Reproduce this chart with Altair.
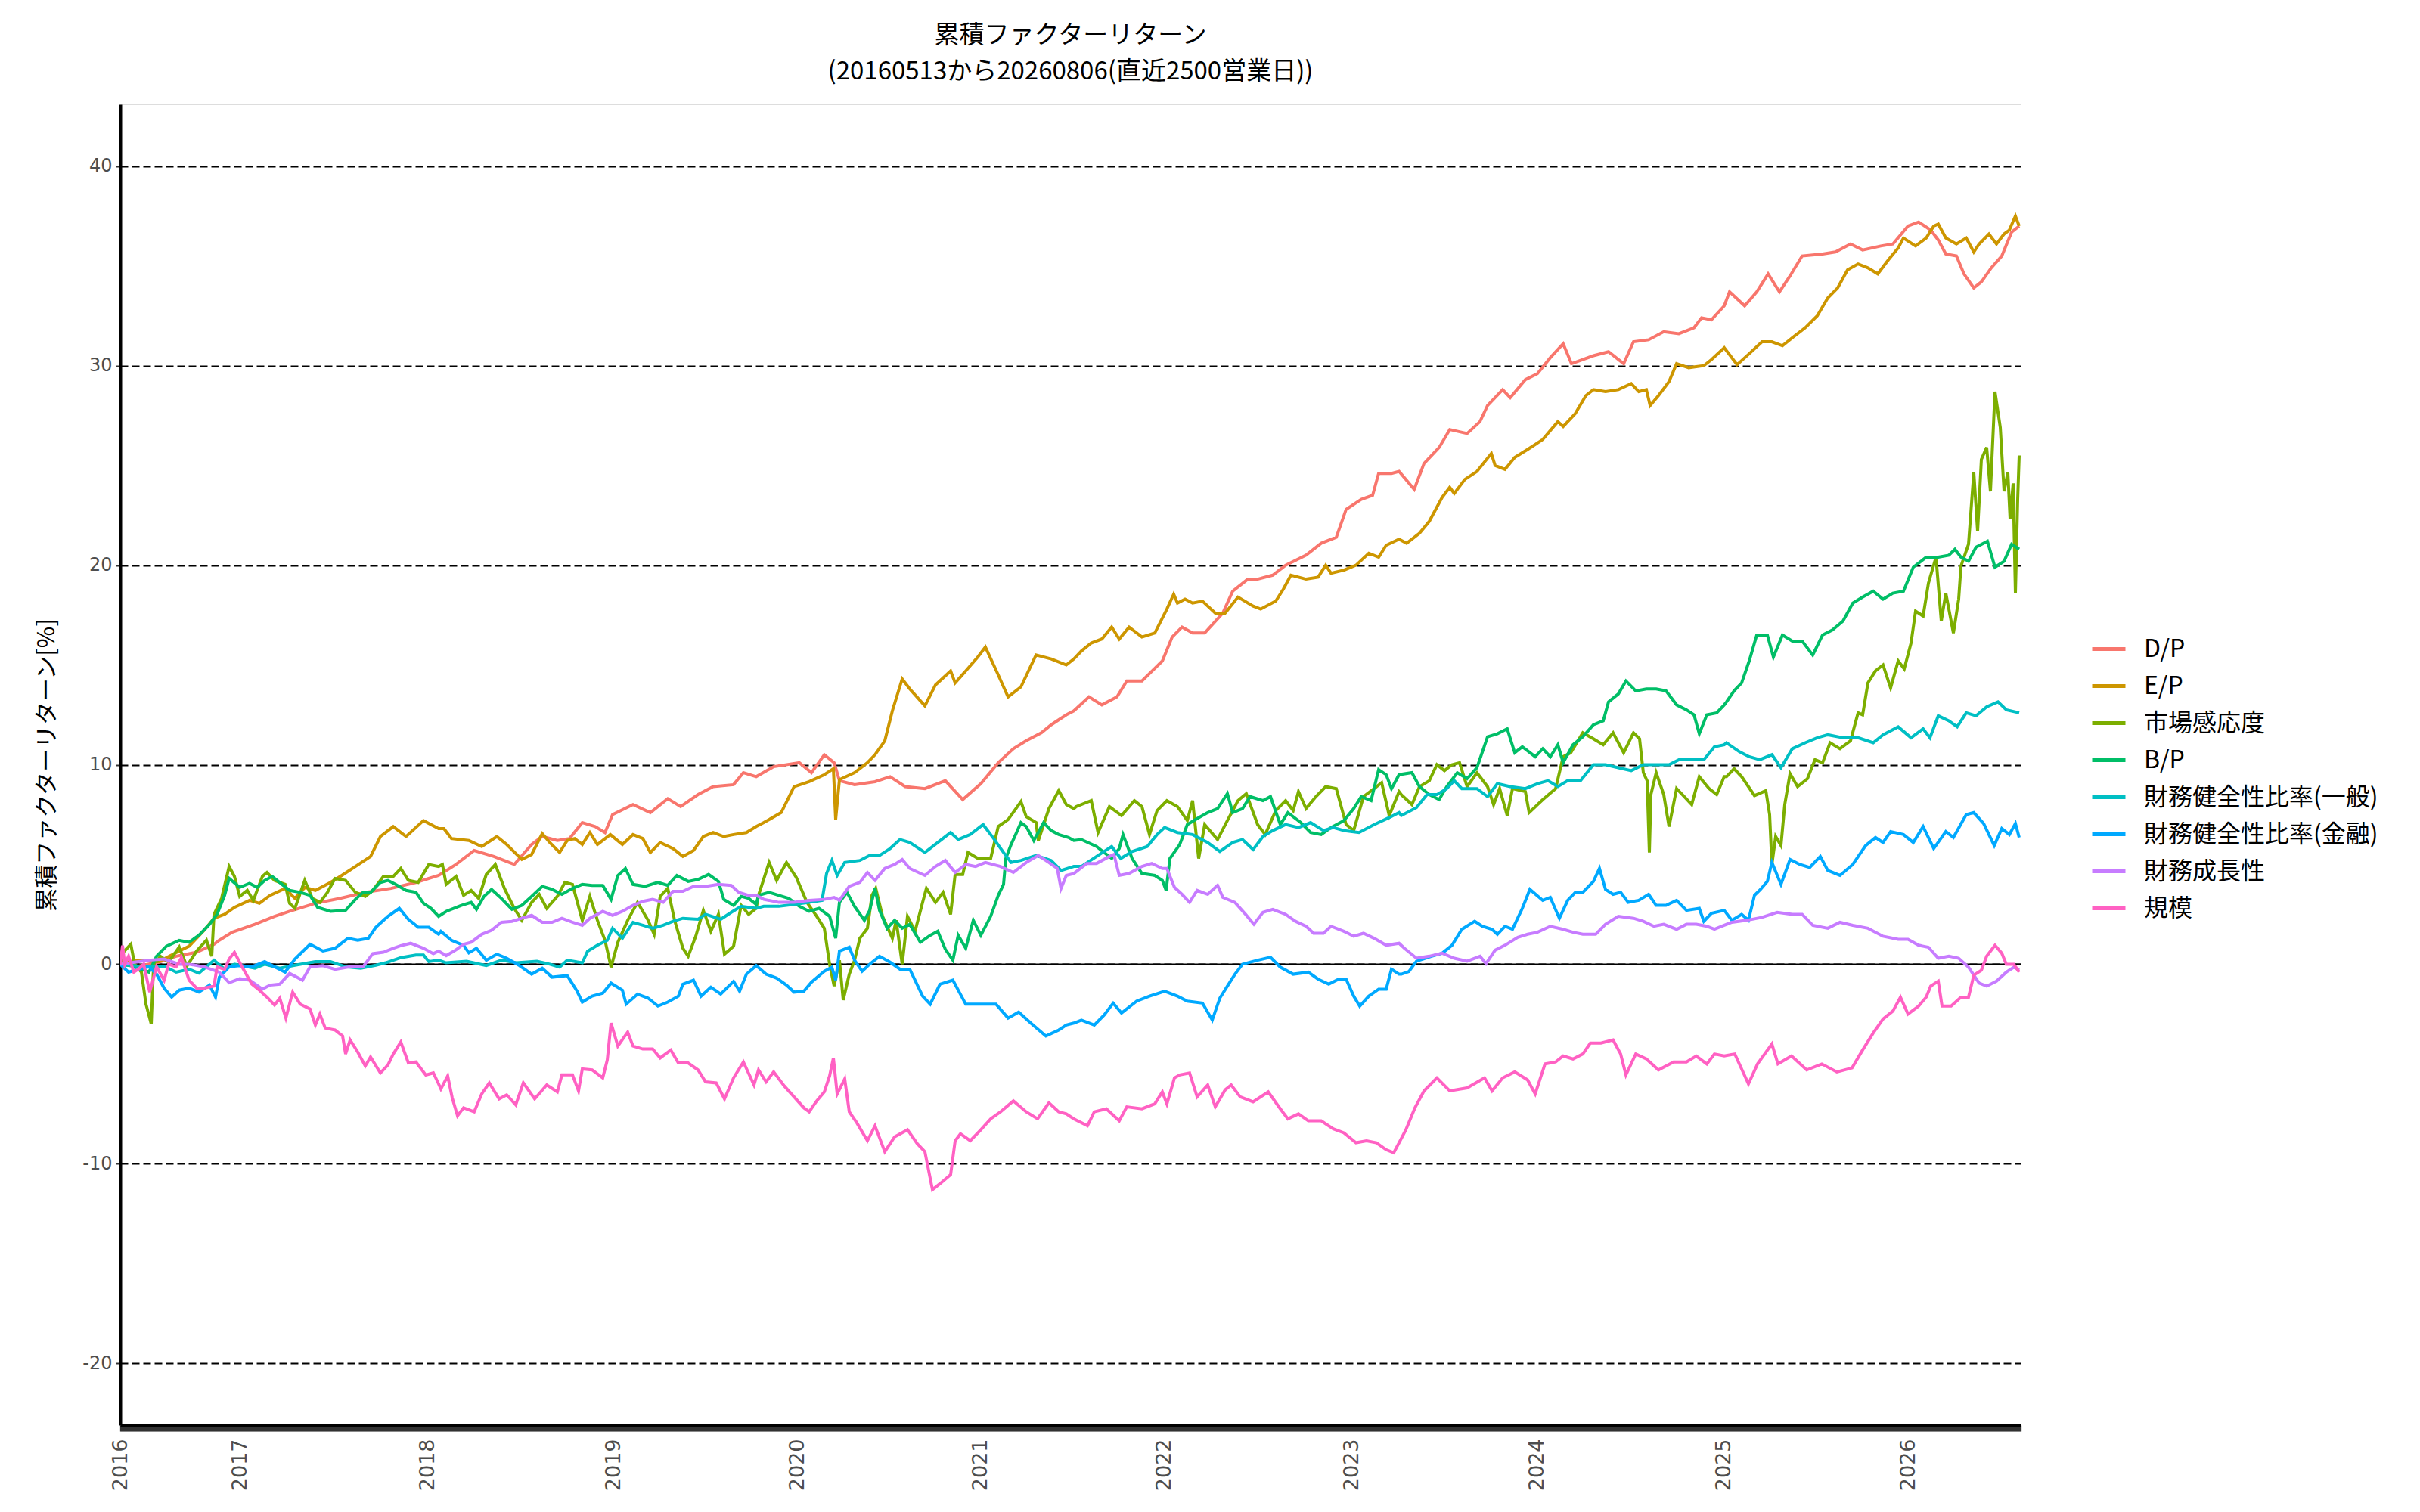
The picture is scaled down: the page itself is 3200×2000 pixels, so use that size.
import altair as alt
import pandas as pd

SERIES = ["D/P", "E/P", "市場感応度", "B/P", "財務健全性比率(一般)",
          "財務健全性比率(金融)", "財務成長性", "規模"]
COLORS = ["#F8766D", "#CD9600", "#7CAE00", "#00BE67", "#00BFC4",
          "#00A9FF", "#C77CFF", "#FF61C3"]

TITLE_LINES = ["累積ファクターリターン", "(20160513から20260806(直近2500営業日))"]
Y_TITLE = "累積ファクターリターン[%]"

# trading-day index of the first trading day of each year (x positions of the year labels)
YEAR_IDX = [0, 158, 406, 652, 895, 1137, 1380, 1628, 1873, 2120, 2364]
YEAR_LAB = ["2016", "2017", "2018", "2019", "2020", "2021", "2022", "2023", "2024", "2025", "2026"]
LAST_IDX = 2513
Y_TICKS = [-20, -10, 0, 10, 20, 30, 40]

# (trading-day index, cumulative return %)
DP = [(0,0),(24,-0.1),(51,0.1),(74,0.4),(101,0.6),(124,1.0),(131,1.2),(148,1.6),(178,2.0),(204,2.4),(224,2.65),(258,3.05),(291,3.3),(324,3.6),(358,3.8),(391,4.1),(421,4.45),
      (444,5.0),(468,5.7),(494,5.4),(521,5.0),(544,6.0),(558,6.4),(578,6.2),(594,6.3),(611,7.1),(628,6.9),(641,6.6),(651,7.5),(678,8.0),(701,7.6),(724,8.3),(741,7.9),(764,8.5),(784,8.9),(811,9.0),(824,9.6),(841,9.4),
      (864,9.9),(898,10.1),(914,9.6),(931,10.5),(944,10.1),(951,9.2),(971,9.0),(998,9.15),(1018,9.4),(1038,8.9),(1064,8.8),(1091,9.2),(1114,8.25),(1138,9.05),(1161,10.1),(1181,10.8),(1198,11.2),(1218,11.6),(1231,12.0),(1251,12.5),(1261,12.7),
      (1281,13.4),(1298,13.0),(1318,13.4),(1331,14.2),(1351,14.2),(1378,15.2),(1391,16.4),(1404,16.9),(1418,16.6),(1434,16.6),(1458,17.6),(1471,18.7),(1491,19.3),(1504,19.3),(1524,19.5),(1541,20.0),(1568,20.5),(1588,21.1),(1608,21.4),(1621,22.8),(1641,23.3),(1656,23.5),(1664,24.6),(1681,24.6),(1691,24.7),
      (1711,23.8),(1724,25.1),(1744,25.9),(1758,26.8),(1781,26.6),(1798,27.2),(1808,28.0),(1828,28.8),(1838,28.4),(1858,29.3),(1874,29.6),(1891,30.4),(1908,31.1),(1919,30.1),(1948,30.5),(1968,30.7),(1988,30.1),(2001,31.2),(2021,31.3),(2041,31.7),(2061,31.6),(2081,31.9),(2091,32.4),(2104,32.3),(2121,33.0),
      (2128,33.7),(2148,33.0),(2164,33.7),(2179,34.6),(2194,33.7),(2208,34.5),(2224,35.5),(2251,35.6),(2268,35.7),(2288,36.1),(2304,35.8),(2328,36.0),(2344,36.1),(2364,37.0),(2378,37.2),(2394,36.8),(2404,36.3),(2414,35.6),(2428,35.5),(2438,34.6),(2451,33.9),(2461,34.2),(2474,34.9),(2488,35.5),(2501,36.7),(2511,37.0)]

EP = [(0,0),(24,0.2),(51,0.13),(78,0.66),(91,0.9),(111,1.7),(124,2.3),(138,2.5),(151,2.85),(171,3.2),(184,3.05),(198,3.45),(218,3.8),(231,3.3),(244,3.85),(258,3.7),(278,4.1),(291,4.4),(311,4.9),(331,5.4),(344,6.4),(361,6.9),(378,6.4),(401,7.2),(421,6.8),
      (428,6.8),(438,6.3),(461,6.2),(478,5.9),(498,6.4),(511,6.0),(531,5.25),(544,5.5),(558,6.55),(568,6.1),(581,5.6),(591,6.2),(601,6.3),(611,6.0),(621,6.6),(631,6.0),(648,6.5),(664,6.0),(678,6.5),(691,6.3),(701,5.6),(714,6.1),(731,5.8),(744,5.4),(758,5.7),(771,6.4),(784,6.6),(798,6.4),(811,6.5),(828,6.6),(841,6.9),
      (851,7.1),(874,7.6),(891,8.9),(911,9.15),(931,9.5),(943,9.8),(946,7.25),(951,9.25),(971,9.6),(988,10.1),(998,10.5),(1011,11.2),(1021,12.7),(1034,14.3),(1044,13.8),(1064,12.95),(1078,14.0),(1098,14.7),(1104,14.1),(1118,14.7),(1134,15.4),(1144,15.9),(1161,14.5),(1174,13.4),(1191,13.9),(1211,15.5),(1231,15.3),(1251,15.0),(1261,15.3),
      (1271,15.7),(1284,16.1),(1298,16.3),(1311,16.9),(1321,16.3),(1334,16.9),(1351,16.4),(1368,16.6),(1384,17.8),(1393,18.55),(1398,18.1),(1408,18.3),(1418,18.1),(1431,18.2),(1448,17.6),(1461,17.6),(1478,18.4),(1498,17.95),(1508,17.8),(1528,18.2),(1538,18.8),(1548,19.5),(1568,19.3),(1584,19.4),(1594,20.0),(1601,19.6),(1618,19.75),(1634,20.0),(1651,20.6),(1664,20.4),(1674,21.0),(1691,21.3),
      (1701,21.1),(1718,21.6),(1731,22.2),(1748,23.4),(1758,23.9),(1764,23.6),(1778,24.3),(1794,24.7),(1813,25.6),(1818,25.0),(1831,24.8),(1844,25.4),(1861,25.8),(1881,26.3),(1901,27.2),(1908,26.95),(1924,27.6),(1938,28.5),(1948,28.8),(1964,28.7),(1981,28.8),(1998,29.1),(2008,28.7),(2018,28.8),(2023,28.0),(2034,28.5),(2048,29.2),(2058,30.1),(2074,29.9),(2094,30.0),(2104,30.3),(2121,30.9),
      (2138,30.05),(2154,30.6),(2171,31.2),(2184,31.2),(2198,31.0),(2211,31.4),(2228,31.9),(2244,32.5),(2258,33.4),(2271,33.9),(2284,34.8),(2298,35.1),(2311,34.9),(2324,34.6),(2338,35.3),(2351,35.9),(2358,36.4),(2374,36.0),(2388,36.4),(2398,37.0),(2404,37.1),(2414,36.4),(2428,36.1),(2441,36.4),(2451,35.7),(2458,36.1),(2471,36.6),(2481,36.1),(2491,36.6),(2498,36.8),(2506,37.5),(2511,37.0)]

MKT = [(0,0),(4,0.6),(14,1.0),(19,0),(28,-0.4),(34,-2.0),(41,-3.0),(44,-0.1),(53,0.4),(64,0.1),(78,0.86),(88,-0.1),(101,0.66),(114,1.2),(121,0.4),(124,2.5),(134,3.3),(144,4.9),(151,4.4),(158,3.4),(168,3.7),(176,3.2),(188,4.4),(194,4.6),(204,4.2),(218,4.0),(224,3.05),(231,2.8),(244,4.2),(254,3.3),(264,3.1),(274,3.6),(284,4.3),(298,4.2),(311,3.6),(324,3.4),(334,3.7),(348,4.4),(361,4.4),(371,4.8),(381,4.2),(394,4.1),(408,5.0),(421,4.9),
       (426,5.0),(431,4.0),(444,4.4),(454,3.45),(464,3.7),(474,3.3),(484,4.5),(496,5.0),(508,3.8),(521,2.8),(531,2.2),(544,3.1),(554,3.5),(564,2.8),(578,3.4),(588,4.1),(598,4.0),(611,2.2),(621,3.4),(631,2.2),(641,1.2),(649,-0.15),(658,1.1),(671,2.2),(684,3.1),(698,2.2),(706,1.5),(714,3.4),(724,3.8),(733,2.2),(744,0.8),(751,0.4),(761,1.4),(771,2.7),(781,1.65),(791,2.5),(799,0.5),(811,0.9),(821,2.95),(831,2.5),(841,2.8),
       (844,3.45),(858,5.1),(868,4.2),(881,5.1),(894,4.35),(908,3.1),(921,2.4),(931,1.8),(938,0),(944,-1.1),(951,0.2),(956,-1.8),(964,-0.5),(971,0.2),(978,1.3),(988,1.8),(994,3.45),(999,3.8),(1008,2.4),(1021,1.3),(1026,2.2),(1034,0),(1041,2.4),(1051,1.65),(1061,3.1),(1066,3.8),(1078,3.1),(1088,3.6),(1098,2.5),(1104,4.5),(1114,4.5),(1121,5.6),(1134,5.3),(1151,5.3),(1161,6.9),(1174,7.25),(1191,8.15),(1198,7.4),(1211,7.1),(1214,6.2),(1228,7.8),(1241,8.7),(1251,8.0),(1261,7.8),
       (1264,7.9),(1284,8.2),(1293,6.6),(1308,7.9),(1324,7.45),(1341,8.2),(1351,7.9),(1361,6.5),(1371,7.7),(1384,8.2),(1398,7.9),(1411,7.2),(1418,8.2),(1426,5.3),(1434,7.0),(1451,6.25),(1464,7.2),(1478,8.2),(1489,8.55),(1504,7.0),(1514,6.5),(1528,7.7),(1541,8.2),(1551,7.7),(1558,8.65),(1568,7.8),(1581,8.4),(1594,8.9),(1608,8.8),(1621,7.0),(1631,6.7),(1644,8.4),(1658,8.8),(1668,9.1),(1678,7.45),(1691,8.65),
       (1694,8.5),(1708,8.0),(1718,8.9),(1731,9.2),(1741,10.0),(1751,9.7),(1761,10.0),(1771,10.1),(1781,8.9),(1794,9.6),(1808,8.9),(1816,8.0),(1824,8.8),(1834,7.45),(1841,8.8),(1858,8.65),(1863,7.6),(1881,8.25),(1898,8.8),(1908,10.4),(1918,10.6),(1934,11.6),(1948,11.3),(1961,11.0),(1974,11.6),(1988,10.6),(2001,11.6),(2009,11.3),(2014,9.6),(2019,9.2),(2022,5.6),(2024,8.5),(2031,9.6),(2041,8.5),(2048,6.9),(2058,8.8),(2068,8.4),(2078,8.0),(2088,9.4),(2101,8.8),(2111,8.5),(2121,9.4),
       (2124,9.4),(2134,9.8),(2144,9.4),(2161,8.45),(2176,8.7),(2181,7.5),(2184,5.0),(2189,6.4),(2196,5.95),(2201,8.0),(2208,9.55),(2218,8.9),(2231,9.3),(2241,10.25),(2251,10.1),(2261,11.1),(2274,10.8),(2288,11.2),(2298,12.6),(2304,12.5),(2311,14.1),(2321,14.7),(2331,15.0),(2341,13.85),(2351,15.2),(2359,14.8),(2368,16.1),(2374,17.7),(2384,17.45),(2391,19.1),(2401,20.4),(2408,17.2),(2414,18.6),(2424,16.6),(2431,18.3),(2434,19.95),(2444,21.05),(2451,24.65),(2456,21.7),(2461,25.3),(2468,25.9),(2473,23.7),(2479,28.7),(2486,26.9),(2491,23.7),(2496,24.65),(2499,22.3),(2503,24.1),(2506,18.6),(2509,23.3),(2511,25.5)]

BP = [(0,0),(18,-0.1),(38,-0.4),(48,0.4),(61,0.9),(78,1.2),(91,1.1),(104,1.45),(118,2.0),(128,2.5),(138,3.45),(144,4.3),(158,3.85),(171,4.05),(181,3.85),(191,4.2),(201,4.4),(214,4.0),(224,3.7),(238,3.6),(251,3.45),(261,2.85),(278,2.65),(298,2.7),(311,3.25),(321,3.6),(331,3.6),(344,4.1),(354,4.2),(364,4.0),(378,3.7),(391,3.6),(401,3.05),(411,2.8),(421,2.4),
      (431,2.65),(451,2.95),(464,3.1),(471,2.75),(481,3.4),(491,3.75),(504,3.3),(518,2.75),(531,2.95),(544,3.4),(558,3.9),(571,3.75),(584,3.5),(598,3.8),(611,4.0),(624,3.95),(638,3.95),(649,3.25),(658,4.45),(668,4.8),(678,4.0),(694,3.9),(711,4.1),(724,3.95),(736,4.45),(751,4.15),(764,4.25),(778,4.5),(791,4.15),(798,3.25),(811,2.95),(821,3.4),(831,3.3),(841,3.0),
      (844,3.45),(858,3.6),(871,3.45),(884,3.3),(898,2.9),(911,2.65),(924,2.8),(938,2.4),(946,1.3),(951,3.1),(961,3.6),(971,2.9),(984,2.2),(991,2.7),(998,3.8),(1004,2.7),(1014,1.8),(1024,2.2),(1034,1.8),(1044,2.0),(1058,1.1),(1071,1.45),(1081,1.65),(1091,0.75),(1101,0.2),(1108,1.45),(1118,0.8),(1128,2.2),(1138,1.45),(1151,2.4),(1161,3.45),(1168,4.0),(1171,5.3),(1178,6.0),(1184,6.5),(1191,7.1),(1198,6.9),(1208,6.2),(1221,7.1),(1231,6.7),(1241,6.5),(1254,6.35),(1261,6.2),
      (1271,6.25),(1291,5.9),(1311,5.3),(1321,5.8),(1326,6.5),(1338,5.3),(1351,4.55),(1368,4.45),(1378,4.2),(1383,3.7),(1388,5.3),(1401,6.0),(1411,7.0),(1424,7.3),(1438,7.6),(1451,7.8),(1464,8.55),(1471,7.6),(1484,7.8),(1494,8.4),(1511,8.2),(1521,8.4),(1534,7.0),(1544,7.6),(1561,7.1),(1574,6.6),(1588,6.5),(1601,6.85),(1618,7.2),(1631,7.8),(1641,8.4),(1654,8.2),(1664,9.75),(1674,9.5),(1681,8.8),(1691,9.5),
      (1708,9.6),(1718,8.9),(1731,8.5),(1744,8.25),(1754,8.9),(1768,9.6),(1781,9.3),(1794,9.85),(1808,11.4),(1821,11.55),(1834,11.8),(1844,10.6),(1854,10.9),(1871,10.4),(1881,10.8),(1891,10.4),(1901,11.0),(1908,10.1),(1921,11.0),(1934,11.4),(1948,12.0),(1961,12.2),(1968,13.15),(1981,13.55),(1991,14.2),(2004,13.7),(2018,13.8),(2031,13.8),(2044,13.7),(2058,13.0),(2071,12.75),(2081,12.5),(2088,11.55),(2098,12.5),(2111,12.6),(2121,13.0),
      (2124,13.15),(2134,13.7),(2144,14.1),(2154,15.2),(2164,16.5),(2178,16.5),(2186,15.4),(2198,16.5),(2211,16.2),(2224,16.2),(2238,15.5),(2251,16.5),(2264,16.75),(2278,17.2),(2291,18.1),(2304,18.4),(2318,18.7),(2331,18.3),(2344,18.6),(2358,18.7),(2371,19.9),(2388,20.4),(2404,20.4),(2418,20.5),(2426,20.8),(2434,20.4),(2444,20.2),(2454,20.9),(2469,21.2),(2479,19.9),(2491,20.2),(2501,21.05),(2511,20.8)]

FH_GEN = [(0,0),(24,-0.1),(58,-0.1),(74,-0.4),(91,-0.25),(104,-0.45),(124,0.2),(138,-0.25),(151,0),(178,-0.2),(191,0),(211,-0.2),(231,-0.05),(258,0.13),(278,0.13),(298,-0.13),(318,-0.2),(338,-0.05),(351,0.07),(371,0.33),(391,0.46),(401,0.46),(408,0.13),(421,0.2),
          (431,0.07),(458,0.15),(484,-0.07),(504,0.2),(524,0.07),(551,0.15),(568,0),(581,-0.15),(591,0.2),(611,0.07),(618,0.65),(631,0.95),(644,1.2),(651,1.8),(664,1.3),(678,2.1),(691,1.95),(704,1.8),(718,1.95),(731,2.15),(744,2.3),(764,2.25),(774,2.5),(794,2.25),(808,2.6),(821,2.9),(841,2.8),
          (851,2.9),(871,2.9),(891,3.0),(911,3.1),(928,3.2),(934,4.55),(941,5.2),(948,4.45),(958,5.1),(978,5.2),(991,5.45),(1004,5.45),(1018,5.8),(1031,6.25),(1044,6.1),(1064,5.6),(1081,6.1),(1098,6.6),(1108,6.25),(1124,6.5),(1141,7.0),(1154,6.35),(1168,5.6),(1178,5.1),(1191,5.2),(1211,5.45),(1231,5.2),(1244,4.7),(1261,4.9),
          (1271,4.9),(1291,5.4),(1311,5.9),(1323,5.3),(1338,5.65),(1358,5.9),(1371,6.5),(1381,6.85),(1398,6.6),(1418,6.5),(1438,6.1),(1454,5.65),(1471,6.1),(1484,6.25),(1498,5.75),(1511,6.4),(1524,6.7),(1541,7.0),(1558,6.85),(1574,7.1),(1591,6.7),(1604,6.85),(1618,6.7),(1638,6.6),(1658,7.0),(1678,7.35),(1691,7.6),
          (1694,7.45),(1714,7.85),(1728,8.5),(1741,8.5),(1754,8.8),(1764,9.2),(1774,8.8),(1794,8.8),(1808,8.4),(1821,9.05),(1838,8.9),(1858,8.8),(1874,9.05),(1888,9.2),(1901,8.9),(1914,9.2),(1931,9.2),(1948,10.0),(1964,10.0),(1981,9.85),(1998,9.7),(2014,10.0),(2031,10.0),(2048,10.0),(2061,10.25),(2078,10.25),(2094,10.25),(2108,10.9),(2121,11.0),
          (2124,11.1),(2141,10.65),(2154,10.4),(2168,10.25),(2184,10.5),(2196,9.85),(2211,10.8),(2228,11.1),(2244,11.35),(2258,11.5),(2278,11.35),(2298,11.35),(2318,11.1),(2331,11.5),(2351,11.9),(2368,11.35),(2384,11.8),(2393,11.35),(2404,12.45),(2418,12.2),(2429,11.9),(2441,12.6),(2454,12.45),(2468,12.9),(2483,13.15),(2494,12.75),(2511,12.6)]

FH_FIN = [(0,0),(11,-0.4),(24,-0.25),(38,-0.13),(48,-0.5),(58,-1.2),(68,-1.65),(78,-1.3),(91,-1.2),(104,-1.4),(118,-1.05),(126,-1.65),(131,-0.65),(144,-0.13),(158,-0.07),(174,-0.13),(191,0.13),(204,-0.13),(218,-0.4),(231,0.26),(251,1.0),(268,0.66),(284,0.8),(301,1.3),(314,1.2),(328,1.3),(338,1.85),(354,2.4),(369,2.8),(381,2.25),(394,1.85),(408,1.85),(421,1.5),
          (424,1.65),(438,1.2),(454,0.95),(461,0.57),(471,0.8),(484,0.2),(498,0.5),(511,0.3),(528,-0.07),(544,-0.5),(558,-0.2),(571,-0.65),(591,-0.57),(604,-1.35),(611,-1.9),(624,-1.6),(638,-1.45),(649,-0.95),(664,-1.3),(669,-2.0),(684,-1.5),(698,-1.7),(711,-2.1),(724,-1.9),(738,-1.6),(744,-1.0),(758,-0.8),(768,-1.6),(781,-1.15),(794,-1.5),(811,-0.86),(819,-1.35),(828,-0.5),(841,-0.07),
          (854,-0.5),(868,-0.7),(881,-1.05),(891,-1.4),(904,-1.35),(914,-0.9),(931,-0.35),(941,-0.15),(946,-0.8),(951,0.65),(964,0.85),(971,0.2),(981,-0.35),(991,0),(1004,0.4),(1018,0.1),(1031,-0.25),(1044,-0.25),(1061,-1.6),(1071,-2.0),(1084,-1.0),(1101,-0.8),(1118,-2.0),(1138,-2.0),(1158,-2.0),(1174,-2.7),(1188,-2.4),(1204,-2.95),(1224,-3.6),(1241,-3.3),(1251,-3.05),(1261,-2.95),
          (1271,-2.8),(1288,-3.05),(1301,-2.55),(1313,-1.95),(1324,-2.45),(1344,-1.85),(1361,-1.6),(1381,-1.35),(1398,-1.6),(1411,-1.85),(1431,-1.95),(1444,-2.8),(1454,-1.7),(1464,-1.1),(1474,-0.5),(1484,0),(1504,0.2),(1521,0.35),(1534,-0.15),(1551,-0.5),(1571,-0.4),(1584,-0.75),(1598,-1.0),(1611,-0.75),(1621,-0.75),(1631,-1.6),(1639,-2.1),(1651,-1.6),(1664,-1.25),(1674,-1.25),(1681,-0.25),(1691,-0.5),
          (1694,-0.5),(1704,-0.37),(1714,0.15),(1734,0.4),(1748,0.55),(1761,0.95),(1774,1.75),(1791,2.15),(1801,1.9),(1814,1.75),(1821,1.5),(1831,1.9),(1841,1.75),(1854,2.8),(1864,3.75),(1881,3.2),(1891,3.35),(1903,2.3),(1914,3.2),(1924,3.6),(1934,3.6),(1948,4.15),(1956,4.8),(1964,3.75),(1974,3.5),(1984,3.6),(1994,3.1),(2008,3.2),(2021,3.5),(2031,2.95),(2044,2.95),(2058,3.2),(2071,2.7),(2088,2.8),(2094,2.15),(2104,2.55),(2121,2.7),
          (2131,2.2),(2144,2.5),(2153,2.2),(2161,3.45),(2169,3.75),(2178,4.15),(2184,5.1),(2196,4.0),(2208,5.25),(2221,5.0),(2234,4.85),(2248,5.4),(2258,4.7),(2274,4.45),(2291,5.0),(2308,5.95),(2321,6.35),(2331,6.1),(2341,6.65),(2358,6.5),(2371,6.1),(2384,6.9),(2398,5.8),(2414,6.65),(2424,6.35),(2441,7.5),(2451,7.6),(2464,7.05),(2478,5.95),(2488,6.8),(2498,6.5),(2506,7.05),(2511,6.35)]

GROWTH = [(0,0),(24,0.13),(38,0.2),(58,0.26),(78,0),(91,0),(111,-0.13),(131,-0.4),(144,-0.93),(158,-0.73),(171,-0.8),(188,-1.25),(198,-1.05),(211,-1.0),(224,-0.46),(241,-0.8),(251,-0.13),(268,-0.07),(284,-0.26),(304,-0.13),(321,-0.13),(334,0.53),(348,0.6),(361,0.8),(371,0.93),(384,1.05),(401,0.8),(414,0.53),(421,0.66),
          (431,0.43),(444,0.72),(454,1.0),(464,1.1),(478,1.5),(491,1.7),(504,2.1),(518,2.15),(531,2.3),(544,2.45),(558,2.1),(571,2.1),(584,2.3),(598,2.1),(611,1.95),(621,2.3),(638,2.65),(651,2.45),(664,2.65),(678,2.95),(691,3.15),(704,3.25),(718,3.1),(731,3.65),(744,3.65),(758,3.9),(774,3.9),(791,4.0),(808,3.95),(818,3.6),(831,3.45),(841,3.45),
          (851,3.25),(871,3.1),(891,3.1),(911,3.2),(931,3.25),(944,3.35),(951,3.2),(964,3.9),(978,4.1),(988,4.6),(998,4.2),(1011,4.8),(1024,5.0),(1034,5.25),(1044,4.8),(1064,4.45),(1078,4.9),(1091,5.2),(1104,4.6),(1118,5.0),(1131,4.9),(1144,5.1),(1164,4.9),(1181,4.6),(1198,5.1),(1214,5.45),(1228,5.1),(1239,4.8),(1244,3.8),(1251,4.45),(1261,4.55),
          (1278,5.05),(1291,5.05),(1308,5.4),(1314,5.5),(1321,4.45),(1334,4.55),(1351,4.9),(1364,5.05),(1378,4.8),(1384,4.8),(1394,3.85),(1404,3.5),(1414,3.1),(1424,3.7),(1438,3.5),(1451,3.95),(1458,3.35),(1474,3.1),(1488,2.5),(1499,2.0),(1511,2.6),(1524,2.75),(1541,2.5),(1554,2.15),(1568,1.9),(1578,1.55),(1591,1.55),(1601,1.9),(1618,1.65),(1631,1.4),(1644,1.55),(1658,1.3),(1674,0.95),(1691,1.05),
          (1698,0.8),(1714,0.3),(1731,0.4),(1748,0.55),(1764,0.3),(1781,0.15),(1798,0.4),(1806,0.03),(1818,0.7),(1831,0.95),(1848,1.35),(1861,1.5),(1874,1.6),(1891,1.9),(1908,1.75),(1921,1.6),(1934,1.5),(1951,1.5),(1964,2.0),(1981,2.4),(2001,2.3),(2014,2.15),(2028,1.9),(2041,2.0),(2058,1.75),(2071,2.0),(2084,2.0),(2098,1.9),(2108,1.75),(2121,1.95),
          (2131,2.1),(2151,2.2),(2171,2.35),(2191,2.6),(2211,2.5),(2224,2.5),(2238,1.95),(2258,1.8),(2274,2.1),(2291,1.95),(2311,1.8),(2331,1.4),(2351,1.25),(2364,1.25),(2378,0.95),(2391,0.85),(2404,0.3),(2418,0.4),(2431,0.3),(2444,-0.15),(2458,-0.95),(2468,-1.1),(2481,-0.85),(2494,-0.4),(2504,-0.15),(2511,-0.3)]

SIZE = [(0,0),(3,0.93),(6,0),(11,0.4),(18,-0.4),(24,-0.25),(31,0),(39,-1.4),(48,-0.13),(58,-0.8),(64,0),(74,-0.13),(81,0.33),(91,-0.8),(101,-1.2),(111,-1.2),(124,-1.1),(128,-0.13),(138,-0.26),(144,0.26),(151,0.6),(161,-0.13),(174,-1.0),(184,-1.3),(194,-1.65),(204,-2.05),(211,-1.7),(219,-2.7),(228,-1.4),(238,-2.0),(251,-2.25),(258,-3.05),(264,-2.5),(271,-3.2),(284,-3.3),(294,-3.6),(298,-4.5),(304,-3.8),(314,-4.4),(324,-5.1),(331,-4.65),(344,-5.45),(354,-5.05),(361,-4.5),(371,-3.9),(381,-4.95),(391,-4.9),(404,-5.55),(414,-5.45),(421,-6.0),
        (424,-6.25),(433,-5.6),(439,-6.7),(446,-7.6),(454,-7.2),(468,-7.4),(478,-6.5),(488,-5.95),(501,-6.75),(511,-6.55),(523,-7.05),(533,-5.95),(548,-6.75),(564,-6.05),(578,-6.4),(584,-5.55),(598,-5.55),(606,-6.35),(611,-5.25),(624,-5.3),(638,-5.7),(644,-4.8),(649,-2.95),(658,-4.1),(671,-3.4),(678,-4.1),(691,-4.25),(704,-4.25),(714,-4.7),(728,-4.3),(738,-4.95),(751,-4.95),(764,-5.3),(774,-5.9),(788,-5.95),(799,-6.75),(811,-5.7),(824,-4.9),(838,-6.05),
        (844,-5.3),(854,-5.9),(864,-5.4),(878,-6.1),(891,-6.65),(904,-7.2),(911,-7.4),(921,-6.85),(931,-6.4),(938,-5.6),(943,-4.7),(948,-6.5),(958,-5.75),(964,-7.4),(974,-7.95),(988,-8.85),(998,-8.1),(1011,-9.4),(1024,-8.65),(1041,-8.3),(1054,-9.0),(1064,-9.4),(1074,-11.3),(1084,-11.0),(1098,-10.55),(1104,-8.85),(1111,-8.5),(1124,-8.85),(1138,-8.3),(1151,-7.75),(1164,-7.4),(1181,-6.85),(1198,-7.4),(1213,-7.75),(1228,-6.95),(1241,-7.4),(1251,-7.5),(1261,-7.75),
        (1279,-8.1),(1288,-7.4),(1304,-7.25),(1321,-7.85),(1331,-7.15),(1351,-7.25),(1368,-7.0),(1378,-6.4),(1384,-7.0),(1394,-5.7),(1401,-5.55),(1414,-5.45),(1424,-6.65),(1438,-6.05),(1448,-7.15),(1461,-6.3),(1469,-6.05),(1481,-6.65),(1498,-6.9),(1518,-6.4),(1534,-7.25),(1544,-7.75),(1558,-7.5),(1571,-7.85),(1588,-7.85),(1604,-8.25),(1618,-8.45),(1634,-8.95),(1648,-8.85),(1661,-8.95),(1674,-9.3),(1684,-9.45),(1691,-8.95),(1700,-8.3),(1712,-7.2),
        (1724,-6.35),(1741,-5.7),(1758,-6.35),(1781,-6.2),(1804,-5.7),(1814,-6.35),(1828,-5.7),(1844,-5.4),(1861,-5.8),(1871,-6.5),(1884,-5.0),(1898,-4.9),(1908,-4.6),(1921,-4.75),(1934,-4.5),(1944,-3.95),(1958,-3.95),(1974,-3.8),(1984,-4.5),(1991,-5.55),(2004,-4.5),(2018,-4.75),(2034,-5.3),(2054,-4.9),(2071,-4.9),(2084,-4.6),(2098,-5.0),(2108,-4.5),(2121,-4.6),
        (2135,-4.5),(2153,-6.0),(2165,-5.0),(2184,-4.0),(2192,-5.0),(2210,-4.6),(2230,-5.3),(2250,-5.0),(2270,-5.4),(2290,-5.2),(2304,-4.3),(2318,-3.45),(2331,-2.75),(2344,-2.35),(2354,-1.65),(2364,-2.5),(2378,-2.1),(2388,-1.65),(2394,-1.1),(2404,-0.85),(2409,-2.1),(2421,-2.1),(2434,-1.65),(2444,-1.65),(2451,-0.55),(2461,-0.3),(2468,0.4),(2479,0.95),(2488,0.55),(2494,0),(2504,0),(2511,-0.4)]

DATA = [DP, EP, MKT, BP, FH_GEN, FH_FIN, GROWTH, SIZE]

rows = []
for name, pts in zip(SERIES, DATA):
    for d, v in pts:
        rows.append({"day": d, "ret": v, "factor": name})
df = pd.DataFrame(rows)

JP = "Noto Sans CJK JP"
LAB = "DejaVu Sans"

label_expr = (f"indexof({YEAR_IDX}, datum.value) >= 0 ? "
              f"{YEAR_LAB}[indexof({YEAR_IDX}, datum.value)] : ''")

x_enc = alt.X(
    "day:Q",
    scale=alt.Scale(domain=[0, LAST_IDX], nice=False, zero=False),
    axis=alt.Axis(
        title=None, values=list(range(0, LAST_IDX + 1)), labelExpr=label_expr,
        labelAngle=270, labelFont=LAB, labelFontSize=27, labelColor="#4D4D4D",
        labelPadding=10, labelOverlap=False, labelFlush=False, labelBound=False,
        grid=False, domainColor="#000000", domainWidth=4,
        tickColor="#333333", tickSize=8, tickWidth=1.3,
    ),
)
y_enc = alt.Y(
    "ret:Q",
    scale=alt.Scale(domain=[-23.1, 43.1], nice=False, zero=False),
    axis=alt.Axis(
        title=Y_TITLE, titleFont=JP, titleFontSize=31, titleFontWeight="normal",
        titleColor="#000000", titlePadding=30,
        values=Y_TICKS, labelExpr="datum.value + ''",
        labelFont=LAB, labelFontSize=24, labelColor="#4D4D4D",
        labelPadding=5, grid=True, gridColor="#000000", gridDash=[10, 5], gridWidth=2,
        domainColor="#000000", domainWidth=4, tickColor="#333333", tickSize=6, tickWidth=2,
    ),
)

lines = alt.Chart(df).mark_line(strokeWidth=4, clip=True).encode(
    x=x_enc,
    y=y_enc,
    color=alt.Color(
        "factor:N",
        scale=alt.Scale(domain=SERIES, range=COLORS),
        sort=SERIES,
        legend=alt.Legend(
            title=None, orient="none", legendX=2605, legendY=696,
            labelFont=JP, labelFontSize=32, labelColor="#000000", labelOffset=22,
            symbolType="stroke", symbolSize=1936, symbolStrokeWidth=5,
            rowPadding=8, padding=0, labelLimit=600,
        ),
    ),
)

zero = alt.Chart(pd.DataFrame({"ret": [0]})).mark_rule(color="#000000", strokeWidth=2).encode(
    y=alt.Y("ret:Q")
)

chart = alt.layer(zero, lines).properties(
    width=LAST_IDX,
    height=1747,
    title=alt.Title(
        TITLE_LINES, font=JP, fontSize=33, fontWeight="normal", color="#000000",
        anchor="middle", offset=26, lineHeight=48,
    ),
    autosize=alt.AutoSizeParams(type="none"),
    padding={"left": 151, "top": 130, "right": 500, "bottom": 100},
).configure_view(stroke=None).configure(background="#FFFFFF")

chart.save("out.html", embed_options={"renderer": "svg", "actions": False})
